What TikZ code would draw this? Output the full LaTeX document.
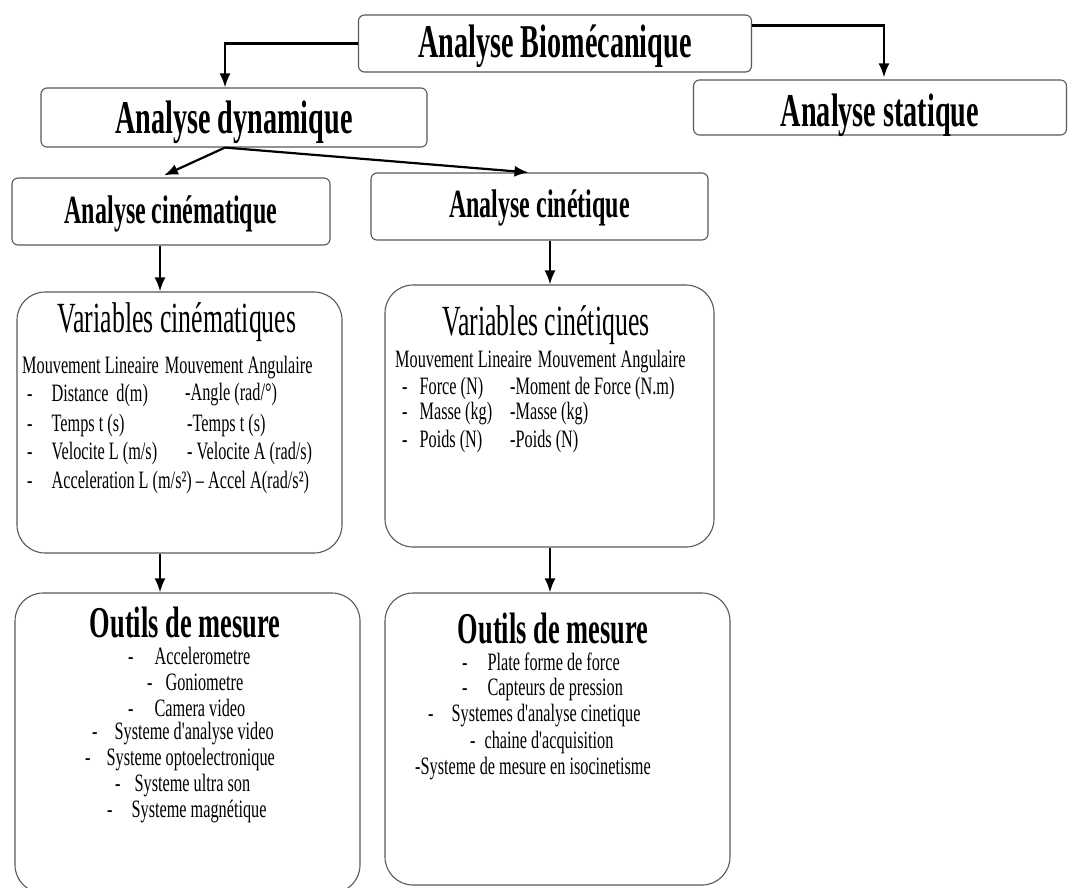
\documentclass[tikz,border=0pt]{standalone}
\usepackage{fontspec}
\setmainfont{Liberation Serif}
\newfontfamily\cf[FakeStretch=0.65]{Liberation Serif}
\newfontfamily\cft[FakeStretch=0.6]{Liberation Serif}
\usetikzlibrary{arrows.meta}
\begin{document}
\begin{tikzpicture}[x=1pt,y=-1pt,
  sbox/.style={draw=black!65, line width=1.1pt, rounded corners=6pt, inner sep=0pt, text depth=0pt},
  rbox/.style={draw=black!65, line width=1.1pt, rounded corners=28pt, inner sep=0pt},
  arr/.style={-{Latex[length=14pt,width=11pt]}, line width=2.2pt, black},
  h1/.style={font=\cft\bfseries\fontsize{47}{50}\selectfont},
  h2/.style={font=\cft\bfseries\fontsize{40}{44}\selectfont},
  vt/.style={font=\cft\fontsize{43}{46}\selectfont, inner sep=0pt},
  ot/.style={font=\cft\bfseries\fontsize{44}{46}\selectfont, inner sep=0pt},
  it/.style={font=\cf\fontsize{25}{28}\selectfont, inner sep=0pt, anchor=west}]
\useasboundingbox (0,0) rectangle (1070,887);
\fill[white] (0,0) rectangle (1070,887);

% top boxes
\node[sbox, h1, text height=27pt, minimum width=393pt, minimum height=57pt] (bio) at (555,43.5) {Analyse Biomécanique};
\node[sbox, h1, text height=31pt, minimum width=386pt, minimum height=59pt] (dyn) at (234,117.5) {Analyse dynamique};
\node[sbox, h1, text height=37pt, minimum width=373pt, minimum height=55pt] (stat) at (880,107.5) {Analyse statique};
\node[sbox, h2, text height=23pt, minimum width=318pt, minimum height=67pt] (cinem) at (171,211.5) {Analyse cinématique};
\node[sbox, h2, text height=21pt, minimum width=337pt, minimum height=67pt] (cinet) at (539.5,206.5) {Analyse cinétique};

% lower boxes
\node[rbox, minimum width=325pt, minimum height=261pt] (vcm) at (179.5,422.5) {};
\node[rbox, minimum width=329pt, minimum height=262pt] (vct) at (549.5,416) {};
\node[rbox, minimum width=345pt, minimum height=300pt] (ocm) at (187.5,743) {};
\node[rbox, minimum width=345pt, minimum height=292pt] (oct) at (557.5,739) {};

% connectors
\draw[arr] (bio.west) -| ([xshift=-9pt]dyn.north);
\draw[arr] ([yshift=-11pt]bio.north east) -| ([xshift=4pt,yshift=2pt]stat.north);
\draw[arr] ([xshift=-9pt]dyn.south) -- ([xshift=-7pt,yshift=2pt]cinem.north);
\draw[arr] ([xshift=-9pt]dyn.south) -- ([xshift=-11pt]cinet.north);
\draw[arr] ([xshift=-11pt]cinem.south) -- ([xshift=-19.5pt]vcm.north);
\draw[arr] ([xshift=10.5pt]cinet.south) -- ([xshift=0.5pt]vct.north);
\draw[arr] ([xshift=-19.5pt]vcm.south) -- ([xshift=-27.5pt]ocm.north);
\draw[arr] ([xshift=0.5pt]vct.south) -- ([xshift=-7.5pt]oct.north);

% Variables cinematiques
\node[vt] (vcmt) at (177,322) {Variables cinématiques};
\node[it] (vcm0) at (22,368) {Mouvement Lineaire\hspace{6pt}Mouvement Angulaire};
\node[it] (vcm1) at (27,395) {-\hspace{19pt}Distance\hspace{8pt}d(m)};
\node[it] (vcm1b) at (185,395) {-Angle (rad/°)};
\node[it] (vcm2) at (27,425) {-\hspace{19pt}Temps t (s)};
\node[it] (vcm2b) at (187,425) {-Temps t (s)};
\node[it] (vcm3) at (27,453) {-\hspace{19pt}Velocite L (m/s)};
\node[it] (vcm3b) at (187,453) {-\hspace{4pt}Velocite A (rad/s)};
\node[it] (vcm4) at (27,482) {-\hspace{19pt}Acceleration L (m/s²) – Accel A(rad/s²)};

% Variables cinetiques
\node[vt] (vctt) at (546,325) {Variables cinétiques};
\node[it] (vct0) at (395,362) {Mouvement Lineaire\hspace{6pt}Mouvement Angulaire};
\node[it] (vct1) at (402,388) {-\hspace{12pt}Force (N)};
\node[it] (vct1b) at (510,388) {-Moment de Force (N.m)};
\node[it] (vct2) at (402,414) {-\hspace{12pt}Masse (kg)};
\node[it] (vct2b) at (510,414) {-Masse (kg)};
\node[it] (vct3) at (402,441) {-\hspace{12pt}Poids (N)};
\node[it] (vct3b) at (510,441) {-Poids (N)};

% Outils gauche
\node[ot] (ocmt) at (185,622) {Outils de mesure};
\node[it] (ocm1) at (128,656) {-\hspace{21pt}Accelerometre};
\node[it] (ocm2) at (147,682) {-\hspace{13pt}Goniometre};
\node[it] (ocm3) at (128,708) {-\hspace{21pt}Camera video};
\node[it] (ocm4) at (92,734) {-\hspace{17pt}Systeme d'analyse video};
\node[it] (ocm5) at (85,760) {-\hspace{16pt}Systeme optoelectronique};
\node[it] (ocm6) at (115,786) {-\hspace{14pt}Systeme ultra son};
\node[it] (ocm7) at (107,811) {-\hspace{19pt}Systeme magnétique};

% Outils droite
\node[ot] (octt) at (553,628) {Outils de mesure};
\node[it] (oct1) at (462,662) {-\hspace{20pt}Plate forme de force};
\node[it] (oct2) at (462,689) {-\hspace{20pt}Capteurs de pression};
\node[it] (oct3) at (428,716) {-\hspace{18pt}Systemes d'analyse cinetique};
\node[it] (oct4) at (470,742) {-\hspace{9pt}chaine d'acquisition};
\node[it] (oct5) at (415,769) {-Systeme de mesure en isocinetisme};
\end{tikzpicture}
\end{document}
